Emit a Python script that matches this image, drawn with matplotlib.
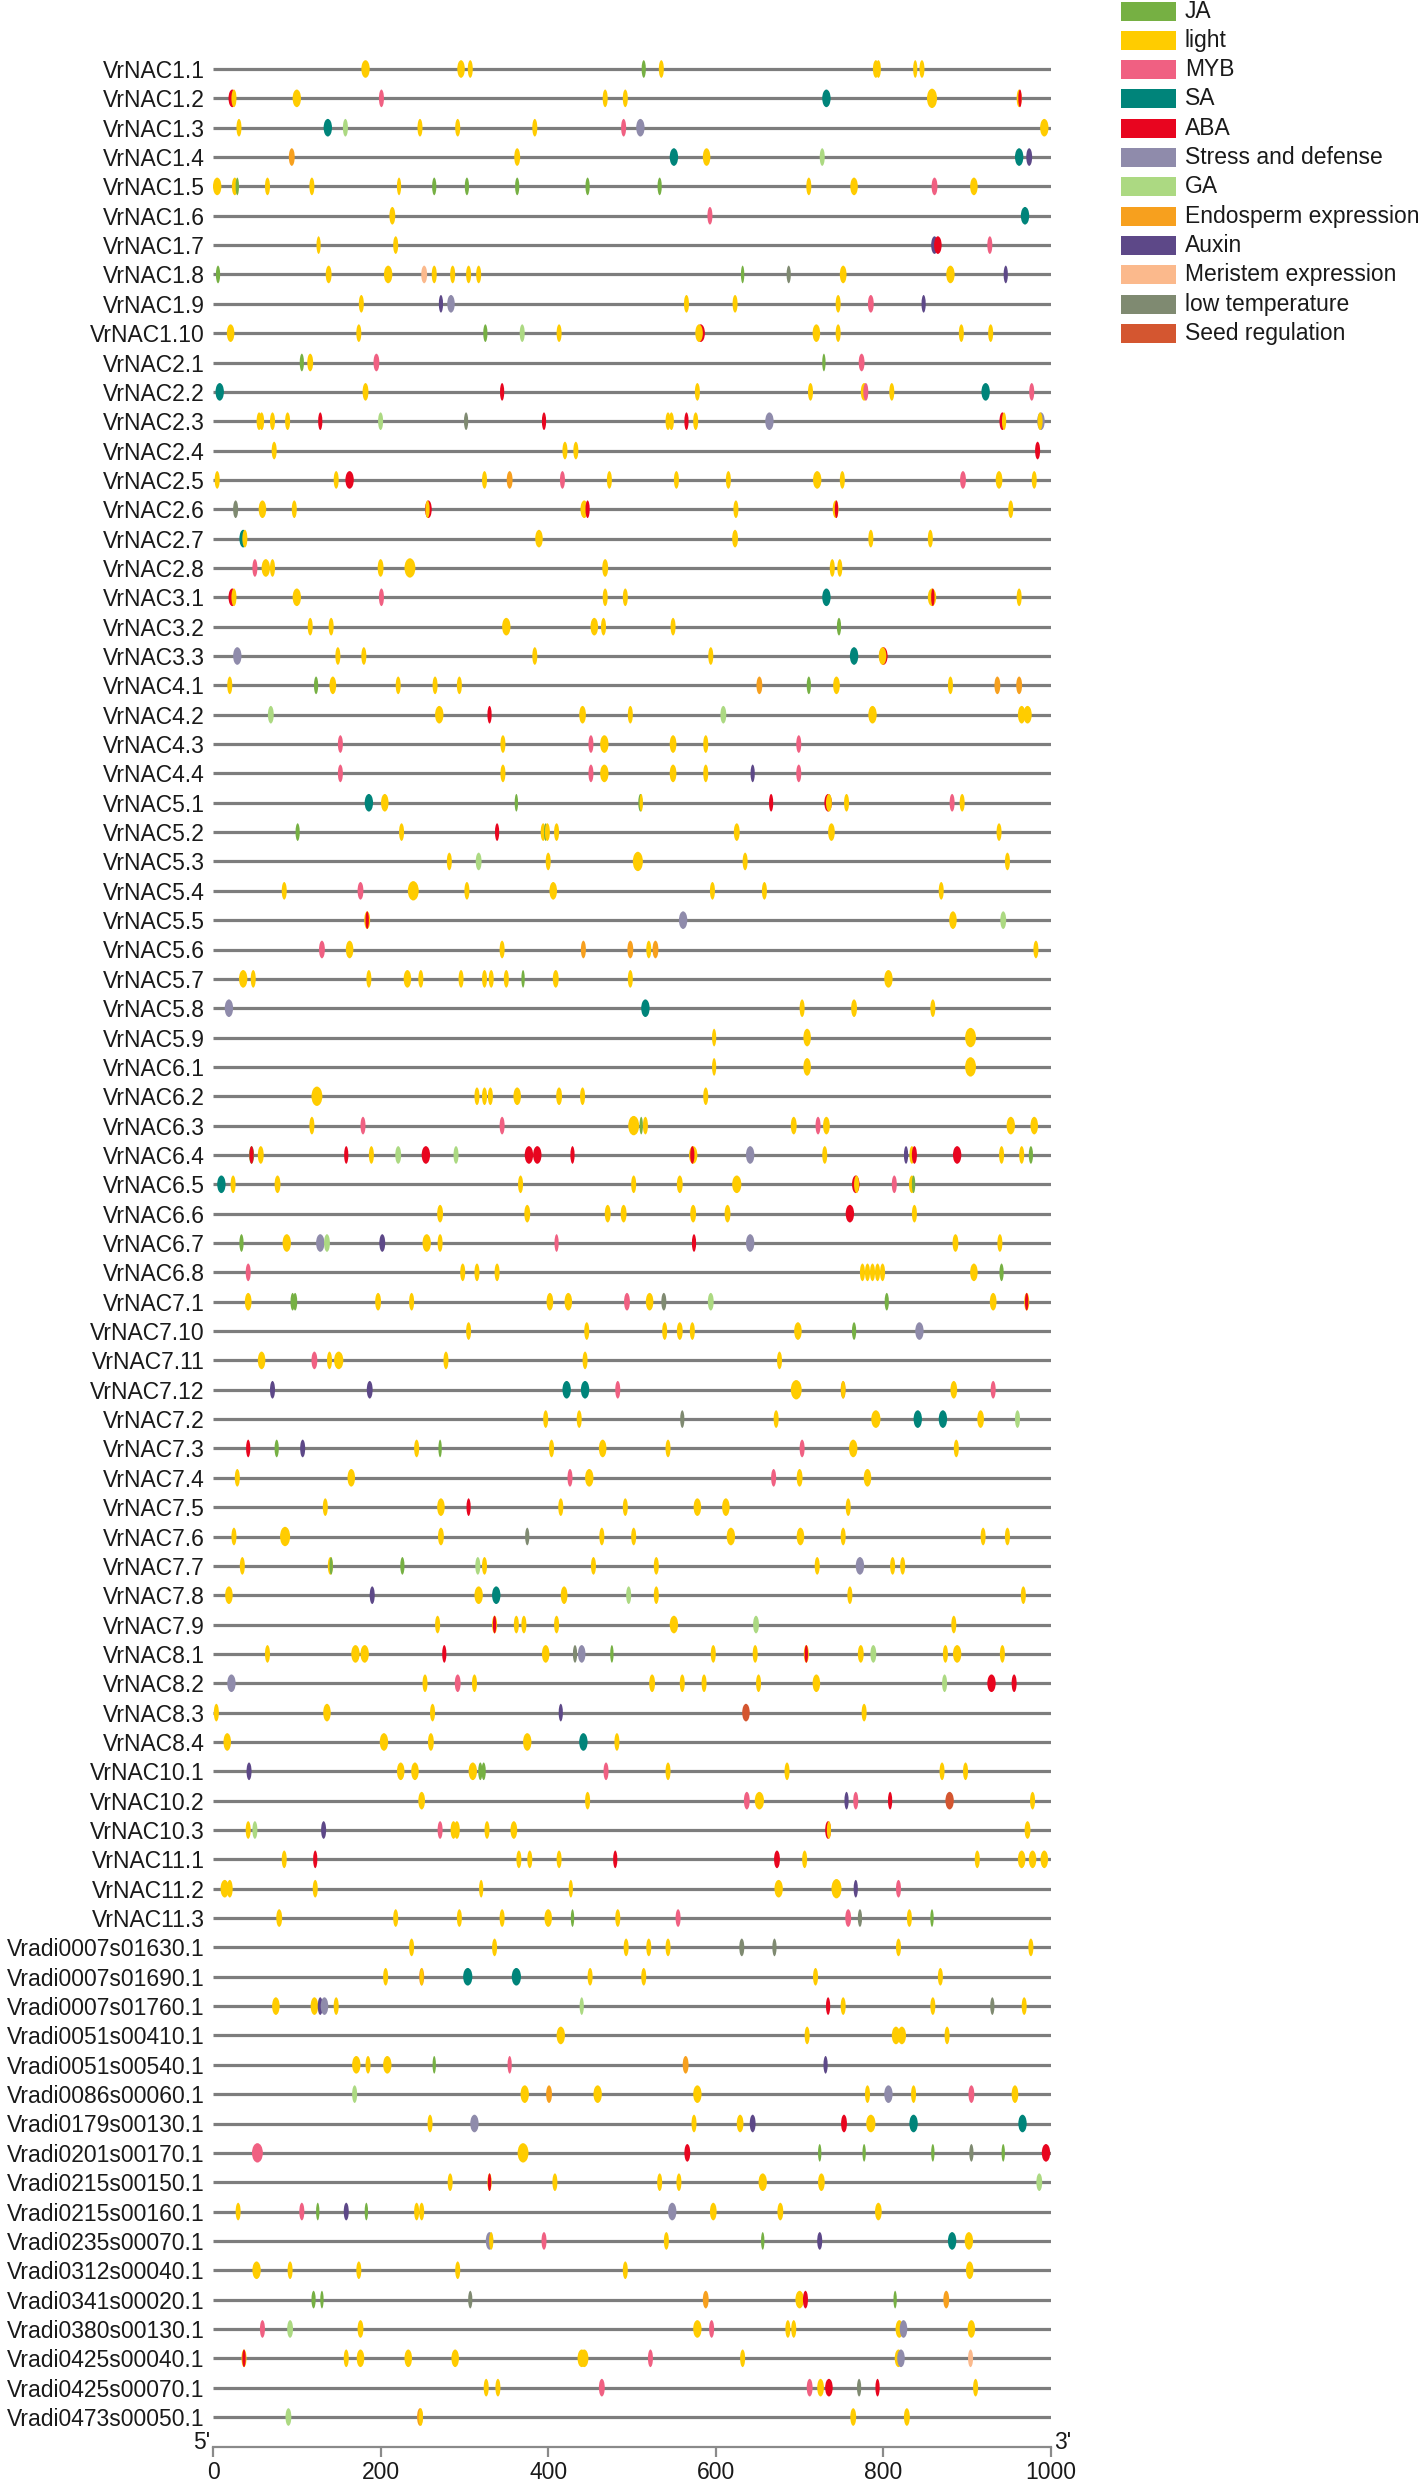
import numpy as np
import matplotlib
matplotlib.use("Agg")
import matplotlib.pyplot as plt
from matplotlib.patches import Ellipse, Rectangle

plt.rcParams['font.family'] = ['Liberation Sans', 'DejaVu Sans']

# cis-element categories (code -> legend name, colour)
codes = ['J', 'L', 'M', 'S', 'A', 'D', 'G', 'E', 'X', 'R', 'T', 'Z']
names = ['JA', 'light', 'MYB', 'SA', 'ABA', 'Stress and defense', 'GA',
         'Endosperm expression', 'Auxin', 'Meristem expression',
         'low temperature', 'Seed regulation']
colors = ['#76b043', '#ffcc00', '#f06082', '#00847a', '#e8051f', '#8f8bab',
          '#acd982', '#f7a01e', '#5d4888', '#fbb98c', '#7f8a71', '#d45630']

genes = ['VrNAC1.1', 'VrNAC1.2', 'VrNAC1.3', 'VrNAC1.4', 'VrNAC1.5', 'VrNAC1.6',
         'VrNAC1.7', 'VrNAC1.8', 'VrNAC1.9', 'VrNAC1.10',
         'VrNAC2.1', 'VrNAC2.2', 'VrNAC2.3', 'VrNAC2.4', 'VrNAC2.5', 'VrNAC2.6',
         'VrNAC2.7', 'VrNAC2.8', 'VrNAC3.1', 'VrNAC3.2', 'VrNAC3.3',
         'VrNAC4.1', 'VrNAC4.2', 'VrNAC4.3', 'VrNAC4.4',
         'VrNAC5.1', 'VrNAC5.2', 'VrNAC5.3', 'VrNAC5.4', 'VrNAC5.5', 'VrNAC5.6',
         'VrNAC5.7', 'VrNAC5.8', 'VrNAC5.9',
         'VrNAC6.1', 'VrNAC6.2', 'VrNAC6.3', 'VrNAC6.4', 'VrNAC6.5', 'VrNAC6.6',
         'VrNAC6.7', 'VrNAC6.8',
         'VrNAC7.1', 'VrNAC7.10', 'VrNAC7.11', 'VrNAC7.12', 'VrNAC7.2', 'VrNAC7.3',
         'VrNAC7.4', 'VrNAC7.5', 'VrNAC7.6', 'VrNAC7.7', 'VrNAC7.8', 'VrNAC7.9',
         'VrNAC8.1', 'VrNAC8.2', 'VrNAC8.3', 'VrNAC8.4',
         'VrNAC10.1', 'VrNAC10.2', 'VrNAC10.3', 'VrNAC11.1', 'VrNAC11.2', 'VrNAC11.3',
         'Vradi0007s01630.1', 'Vradi0007s01690.1', 'Vradi0007s01760.1',
         'Vradi0051s00410.1', 'Vradi0051s00540.1', 'Vradi0086s00060.1',
         'Vradi0179s00130.1', 'Vradi0201s00170.1', 'Vradi0215s00150.1',
         'Vradi0215s00160.1', 'Vradi0235s00070.1', 'Vradi0312s00040.1',
         'Vradi0341s00020.1', 'Vradi0380s00130.1', 'Vradi0425s00040.1',
         'Vradi0425s00070.1', 'Vradi0473s00050.1']

# elements per gene: (position bp, category code, motif length bp)
sites = [
    [(182,'L',10),(296,'L',9),(307,'L',6),(514,'J',5),(535,'L',6),(791,'L',7),(794,'L',6),(838,'L',5),(846,'L',6)],
    [(23,'A',9),(25,'L',6),(100,'L',10),(201,'M',6),(468,'L',6),(492,'L',6),(732,'S',10),(858,'L',12),(962,'L',6),(963,'A',4)],
    [(31,'L',6),(137,'S',10),(158,'G',6),(247,'L',6),(292,'L',6),(384,'L',6),(490,'M',6),(510,'D',10),(992,'L',10)],
    [(94,'E',7),(363,'L',7),(550,'S',10),(589,'L',9),(727,'G',6),(962,'S',10),(974,'X',7)],
    [(5,'L',10),(26,'L',7),(29,'J',4),(65,'L',6),(118,'L',6),(222,'L',5),(264,'J',5),(303,'J',5),(363,'J',5),(447,'J',5),(533,'J',5),(711,'L',6),(765,'L',9),(861,'M',7),(908,'L',9)],
    [(214,'L',7),(593,'M',6),(969,'S',10)],
    [(126,'L',5),(218,'L',6),(861,'X',8),(865,'A',9),(927,'M',6)],
    [(6,'J',5),(138,'L',7),(209,'L',10),(252,'R',7),(264,'L',6),(286,'L',6),(305,'L',6),(317,'L',6),(632,'J',4),(687,'T',5),(752,'L',8),(880,'L',10),(946,'X',5)],
    [(177,'L',6),(272,'X',5),(284,'D',9),(565,'L',6),(623,'L',6),(746,'L',6),(785,'M',7),(848,'X',5)],
    [(21,'L',9),(174,'L',6),(325,'J',5),(369,'G',6),(413,'L',6),(582,'A',10),(580,'L',9),(720,'L',9),(746,'L',6),(893,'L',6),(928,'L',6)],
    [(106,'J',5),(116,'L',7),(195,'M',7),(729,'J',4),(774,'M',7)],
    [(8,'S',10),(182,'L',7),(345,'A',5),(578,'L',6),(713,'L',6),(777,'L',8),(779,'M',6),(810,'L',6),(922,'S',10),(977,'M',6)],
    [(55,'L',6),(58,'L',6),(71,'L',6),(89,'L',6),(128,'A',5),(200,'G',6),(302,'T',5),(395,'A',5),(543,'L',6),(547,'L',6),(565,'A',5),(576,'L',6),(664,'D',10),(942,'A',7),(944,'L',5),(988,'D',9),(987,'L',6)],
    [(73,'L',6),(420,'L',6),(433,'L',6),(984,'A',6)],
    [(5,'L',6),(147,'L',6),(163,'A',10),(324,'L',6),(354,'E',7),(417,'M',6),(473,'L',6),(553,'L',6),(615,'L',6),(721,'L',10),(751,'L',6),(895,'M',7),(938,'L',8),(980,'L',6)],
    [(27,'T',6),(59,'L',9),(97,'L',6),(257,'A',8),(256,'L',5),(443,'L',9),(447,'A',5),(624,'L',6),(743,'L',7),(744,'A',4),(952,'L',6)],
    [(36,'S',9),(38,'L',6),(389,'L',9),(623,'L',7),(785,'L',6),(856,'L',6)],
    [(50,'M',6),(63,'L',10),(71,'L',6),(200,'L',7),(235,'L',13),(468,'L',7),(739,'L',6),(748,'L',6)],
    [(23,'A',9),(25,'L',6),(100,'L',10),(201,'M',6),(468,'L',6),(492,'L',6),(732,'S',10),(858,'L',10),(859,'A',4),(962,'L',6)],
    [(116,'L',6),(141,'L',6),(350,'L',10),(455,'L',9),(466,'L',6),(549,'L',6),(747,'J',5)],
    [(29,'D',10),(149,'L',6),(180,'L',6),(384,'L',6),(594,'L',6),(765,'S',10),(800,'A',10),(799,'L',9)],
    [(20,'L',6),(123,'J',5),(143,'L',8),(221,'L',6),(265,'L',6),(294,'L',6),(652,'E',7),(711,'J',5),(744,'L',8),(880,'L',6),(936,'E',7),(962,'E',7)],
    [(69,'G',7),(270,'L',10),(330,'A',5),(441,'L',8),(498,'L',6),(609,'G',7),(787,'L',10),(965,'L',9),(972,'L',10)],
    [(152,'M',6),(346,'L',6),(451,'M',6),(467,'L',10),(549,'L',8),(588,'L',6),(699,'M',6)],
    [(152,'M',6),(346,'L',6),(451,'M',6),(467,'L',10),(549,'L',8),(588,'L',6),(644,'X',5),(699,'M',6)],
    [(186,'S',10),(205,'L',9),(362,'J',4),(510,'J',5),(511,'L',4),(666,'A',5),(734,'A',9),(735,'L',7),(756,'L',6),(882,'M',6),(894,'L',6)],
    [(101,'J',5),(225,'L',6),(339,'A',5),(394,'L',6),(397,'J',4),(399,'L',6),(410,'L',6),(625,'L',7),(738,'L',8),(938,'L',6)],
    [(282,'L',6),(317,'G',7),(400,'L',6),(507,'L',12),(635,'L',6),(948,'L',6)],
    [(85,'L',6),(176,'M',7),(239,'L',13),(303,'L',6),(406,'L',9),(596,'L',6),(658,'L',6),(869,'L',6)],
    [(184,'L',7),(184,'A',4),(561,'D',10),(883,'L',9),(943,'G',7)],
    [(130,'M',7),(163,'L',9),(345,'L',6),(442,'E',6),(498,'E',7),(520,'L',6),(528,'E',7),(982,'L',6)],
    [(36,'L',10),(48,'L',6),(186,'L',6),(232,'L',9),(248,'L',6),(296,'L',6),(324,'L',6),(332,'L',6),(350,'L',6),(370,'J',4),(409,'L',7),(498,'L',6),(806,'L',10)],
    [(19,'D',10),(516,'S',10),(703,'L',6),(765,'L',7),(859,'L',6)],
    [(598,'L',5),(709,'L',9),(904,'L',13)],
    [(598,'L',5),(709,'L',9),(904,'L',13)],
    [(124,'L',13),(315,'L',6),(324,'L',6),(331,'L',6),(363,'L',9),(413,'L',7),(441,'L',6),(588,'L',6)],
    [(118,'L',6),(179,'M',6),(345,'M',6),(502,'L',13),(511,'J',4),(516,'L',6),(693,'L',7),(722,'M',6),(732,'L',8),(952,'L',10),(980,'L',9)],
    [(46,'J',6),(46,'A',5),(57,'L',7),(159,'A',5),(189,'L',6),(221,'G',7),(254,'A',10),(290,'G',6),(377,'A',10),(387,'A',10),(429,'A',5),(573,'L',10),(572,'A',5),(641,'D',10),(730,'L',6),(827,'X',5),(834,'L',6),(837,'A',6),(888,'A',10),(941,'L',6),(965,'L',6),(976,'J',5)],
    [(10,'S',10),(24,'L',6),(77,'L',7),(367,'L',6),(502,'L',6),(557,'L',7),(625,'L',11),(767,'A',9),(768,'L',6),(813,'M',6),(834,'L',7),(836,'J',4)],
    [(271,'L',7),(375,'L',7),(471,'L',7),(490,'L',7),(573,'L',7),(614,'L',7),(760,'A',10),(837,'L',6)],
    [(34,'J',5),(88,'L',10),(128,'D',10),(136,'G',7),(202,'X',7),(255,'L',10),(271,'L',6),(410,'M',5),(574,'A',5),(641,'D',10),(886,'L',7),(939,'L',6)],
    [(42,'M',6),(298,'L',6),(315,'L',6),(339,'L',6),(775,'L',6),(781,'L',6),(787,'L',6),(793,'L',6),(799,'L',6),(908,'L',9),(941,'J',5)],
    [(42,'L',8),(95,'J',5),(98,'J',5),(197,'L',7),(237,'L',6),(402,'L',8),(424,'L',9),(494,'M',7),(521,'L',9),(538,'T',6),(594,'G',7),(804,'J',5),(931,'L',8),(971,'L',6),(971,'A',4)],
    [(305,'L',6),(446,'L',6),(539,'L',6),(557,'L',7),(572,'L',6),(698,'L',9),(765,'J',5),(843,'D',10)],
    [(58,'L',9),(121,'M',7),(139,'L',6),(150,'L',11),(278,'L',6),(444,'L',6),(676,'L',6)],
    [(71,'X',6),(187,'X',7),(422,'S',10),(444,'S',10),(483,'M',6),(696,'L',13),(752,'E',6),(752,'L',5),(884,'L',8),(931,'M',6)],
    [(397,'L',6),(437,'L',6),(560,'T',5),(672,'L',6),(791,'L',11),(841,'S',10),(871,'S',10),(916,'L',8),(960,'G',6)],
    [(42,'A',5),(76,'J',5),(107,'X',6),(243,'L',6),(271,'J',4),(404,'L',6),(465,'L',9),(543,'L',6),(703,'M',6),(764,'L',10),(887,'L',6)],
    [(29,'L',6),(165,'L',9),(426,'M',6),(449,'L',10),(669,'M',6),(700,'L',7),(781,'L',9)],
    [(134,'L',6),(272,'L',9),(305,'A',5),(415,'L',6),(492,'L',6),(578,'L',9),(612,'L',9),(758,'L',6)],
    [(25,'L',6),(86,'L',12),(272,'L',7),(375,'T',5),(464,'L',6),(502,'L',6),(618,'L',10),(701,'L',9),(752,'L',6),(919,'L',6),(948,'L',6)],
    [(35,'L',6),(140,'L',6),(141,'J',4),(226,'J',5),(316,'G',6),(324,'L',6),(454,'L',6),(529,'L',6),(721,'L',6),(772,'D',10),(811,'L',6),(823,'L',6)],
    [(19,'L',9),(190,'X',6),(317,'L',10),(338,'S',10),(419,'L',8),(496,'G',6),(529,'L',6),(760,'L',6),(967,'L',6)],
    [(268,'L',6),(336,'L',6),(336,'A',4),(362,'L',6),(371,'L',6),(410,'L',6),(550,'L',10),(648,'G',7),(884,'L',6)],
    [(65,'L',6),(170,'L',10),(181,'L',10),(276,'A',5),(397,'L',9),(432,'T',5),(440,'D',9),(476,'J',4),(597,'L',6),(647,'L',6),(708,'L',6),(708,'A',4),(773,'L',7),(788,'G',7),(874,'L',6),(888,'L',10),(942,'L',6)],
    [(22,'D',10),(253,'L',6),(292,'M',7),(312,'L',6),(524,'L',7),(560,'L',6),(586,'L',6),(651,'L',6),(720,'L',9),(873,'G',6),(929,'A',10),(956,'A',6)],
    [(4,'L',6),(136,'L',9),(262,'L',6),(415,'X',5),(636,'Z',9),(777,'L',6)],
    [(17,'L',9),(204,'L',10),(260,'L',7),(375,'L',10),(442,'S',10),(482,'L',6)],
    [(43,'X',6),(224,'L',9),(241,'L',9),(310,'L',10),(319,'J',5),(323,'J',5),(469,'M',6),(543,'L',6),(685,'L',6),(870,'L',6),(898,'L',6)],
    [(249,'L',8),(447,'L',6),(637,'M',7),(652,'L',11),(756,'X',5),(767,'M',6),(808,'A',5),(879,'Z',10),(978,'L',6)],
    [(42,'L',6),(50,'G',6),(132,'X',6),(271,'M',6),(287,'L',7),(291,'L',7),(327,'L',6),(359,'L',8),(734,'A',7),(735,'L',5),(972,'L',7)],
    [(85,'L',6),(122,'A',5),(365,'L',6),(378,'L',6),(413,'L',6),(480,'A',5),(673,'A',7),(706,'L',6),(912,'L',6),(965,'L',9),(978,'L',9),(992,'L',9)],
    [(14,'L',10),(20,'L',7),(122,'L',6),(320,'L',5),(427,'L',5),(675,'L',10),(744,'L',12),(767,'X',5),(818,'M',6)],
    [(79,'L',7),(218,'L',6),(294,'L',6),(345,'L',6),(400,'L',9),(429,'J',4),(483,'L',6),(555,'M',6),(758,'M',7),(772,'T',5),(831,'L',6),(858,'J',4)],
    [(237,'L',6),(336,'L',6),(493,'L',6),(520,'L',6),(543,'L',6),(631,'T',6),(670,'T',5),(818,'L',6),(976,'L',6)],
    [(206,'L',6),(249,'E',6),(249,'L',4),(304,'S',11),(362,'S',11),(450,'L',6),(514,'L',6),(719,'L',6),(868,'L',6)],
    [(75,'L',9),(121,'L',9),(128,'X',6),(133,'D',9),(147,'L',6),(440,'G',5),(734,'A',5),(752,'L',6),(859,'L',6),(930,'T',5),(968,'L',6)],
    [(415,'L',10),(709,'L',6),(815,'L',10),(822,'L',10),(876,'L',6)],
    [(171,'L',10),(185,'L',6),(208,'L',10),(264,'J',4),(354,'M',5),(564,'E',7),(731,'X',5)],
    [(169,'G',6),(372,'L',10),(401,'E',7),(459,'L',10),(578,'L',10),(781,'L',6),(806,'D',10),(836,'L',6),(905,'M',7),(957,'L',8)],
    [(259,'L',6),(312,'D',10),(574,'L',6),(629,'L',8),(644,'X',7),(753,'A',7),(785,'L',11),(836,'S',10),(966,'S',10)],
    [(53,'M',13),(370,'L',13),(566,'A',7),(724,'J',4),(777,'J',4),(859,'J',4),(905,'T',5),(943,'J',4),(994,'A',10)],
    [(283,'L',6),(330,'L',5),(330,'A',4),(408,'L',6),(533,'L',6),(556,'L',6),(656,'L',10),(726,'L',8),(986,'G',7)],
    [(30,'L',6),(106,'M',6),(125,'J',4),(159,'X',6),(183,'J',4),(243,'L',6),(249,'L',6),(548,'D',10),(597,'L',8),(677,'L',7),(794,'L',8)],
    [(330,'D',9),(332,'L',5),(395,'M',6),(541,'L',6),(656,'J',4),(724,'X',6),(882,'S',10),(902,'L',10)],
    [(52,'L',10),(92,'L',6),(174,'L',6),(292,'L',6),(492,'L',6),(903,'L',9)],
    [(120,'J',5),(130,'J',4),(307,'T',5),(588,'E',7),(700,'L',10),(707,'A',6),(814,'J',4),(875,'E',7)],
    [(59,'M',6),(92,'G',7),(176,'L',7),(578,'L',10),(595,'M',6),(686,'L',6),(693,'L',6),(819,'L',9),(824,'D',9),(905,'L',9)],
    [(37,'L',6),(37,'A',4),(159,'L',6),(176,'L',9),(233,'L',9),(289,'L',9),(440,'L',10),(443,'L',10),(522,'M',6),(632,'L',6),(818,'L',9),(821,'D',9),(904,'R',6)],
    [(326,'L',6),(340,'L',6),(464,'M',7),(712,'M',7),(725,'L',8),(735,'A',9),(771,'T',5),(793,'A',5),(910,'L',6)],
    [(90,'G',7),(247,'E',7),(248,'L',5),(764,'L',7),(828,'L',7)],
]

promoter_len = 1000
xticks = [0, 200, 400, 600, 800, 1000]

W, H = 1424, 2480
fig = plt.figure(figsize=(W / 100, H / 100), dpi=100)
fig.patch.set_facecolor('white')

n = len(genes)
row_px = 29.35
axis_px = 2447
ybot = -(n - 1) - (axis_px - (69 + (n - 1) * row_px)) / row_px
ytop = 1
ax_h = (ytop - ybot) * row_px
ax = fig.add_axes([213 / W, (H - axis_px) / H, 838 / W, ax_h / H])
ax.set_xlim(0, promoter_len)
ax.set_ylim(ybot, ytop)

col_of = dict(zip(codes, colors))
for i, gene in enumerate(genes):
    y = -i
    ax.plot([0, promoter_len], [y, y], color='#7d7d7d', lw=2.3,
            solid_capstyle='butt', zorder=1)
    for pos, c, ln in sites[i]:
        h = 0.66 if ln >= 12 else 0.6
        ax.add_patch(Ellipse((pos, y), width=ln, height=h, facecolor=col_of[c],
                             edgecolor='none', zorder=2, clip_on=False))

ax.set_yticks(-np.arange(n))
ax.set_yticklabels(genes, fontsize=16.5, color='#1a1a1a')
ax.tick_params(axis='y', length=0, pad=6)

ax.set_xticks(xticks)
ax.set_xticklabels([str(t) for t in xticks], fontsize=16.5, color='#1a1a1a')
ax.tick_params(axis='x', length=7, width=1.6, color='#8a8a8a', pad=3)
for s in ['top', 'right', 'left']:
    ax.spines[s].set_visible(False)
ax.spines['bottom'].set_color('#8a8a8a')
ax.spines['bottom'].set_linewidth(1.6)

ax.text(-3, ybot + 0.15, "5'", ha='right', va='center', fontsize=16.5,
        color='#1a1a1a', clip_on=False)
ax.text(1004, ybot + 0.15, "3'", ha='left', va='center', fontsize=16.5,
        color='#1a1a1a', clip_on=False)

# legend drawn in its own pixel-based axes
lg = fig.add_axes([1121 / W, (H - 345) / H, (W - 1121) / W, 345 / H])
lg.set_xlim(0, W - 1121)
lg.set_ylim(345, 0)
lg.axis('off')
for k, (nm, cl) in enumerate(zip(names, colors)):
    yc = 11 + k * 29.3
    lg.add_patch(Rectangle((0, yc - 9.5), 55, 19, facecolor=cl, edgecolor='none'))
    lg.text(64, yc, nm, ha='left', va='center', fontsize=16.5, color='#1a1a1a')

fig.savefig('out.png', dpi=100)
